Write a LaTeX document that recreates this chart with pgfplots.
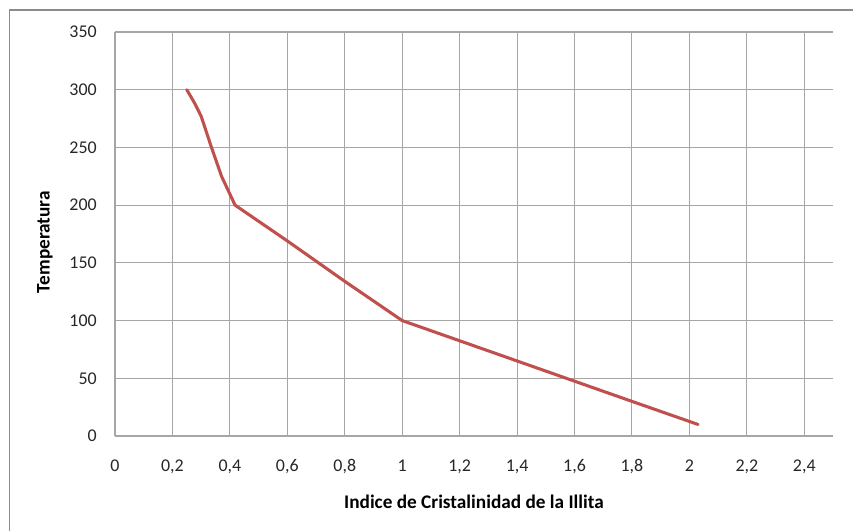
\documentclass[border=0pt]{standalone}
\usepackage{fontspec}
\setmainfont{Carlito}
\usepackage{pgfplots}
\pgfplotsset{compat=1.18}
\definecolor{serie}{HTML}{C0504D}
\definecolor{grille}{HTML}{A6A6A6}
\definecolor{cadre}{HTML}{8C8C8C}
\begin{document}
\begin{tikzpicture}
% page = 853x531 px, 1px = 0.75bp, origin at lower-left of plot area
\path[use as bounding box] (-86.25bp,-71.25bp) rectangle (553.5bp,327bp);
\draw[cadre, line width=1.1bp] (-79.1bp,-71.25bp) -- (-79.1bp,319.5bp) -- (553.5bp,319.5bp);
\begin{axis}[
  at={(0,0)}, anchor=south west,
  scale only axis,
  width=538.5bp, height=303bp,
  xmin=0, xmax=2.5,
  ymin=0, ymax=350,
  xtick={0,0.2,0.4,0.6,0.8,1,1.2,1.4,1.6,1.8,2,2.2,2.4},
  ytick={0,50,100,150,200,250,300,350},
  xticklabels={0,{0,2},{0,4},{0,6},{0,8},1,{1,2},{1,4},{1,6},{1,8},2,{2,2},{2,4}},
  grid=major,
  major grid style={grille, line width=0.8bp},
  axis line style={draw=none},
  tick style={draw=none},
  /pgf/number format/assume math mode=true,
  ticklabel style={font=\fontsize{13.5}{16}\selectfont, text=black!85},
  xticklabel style={anchor=base, inner sep=0pt, yshift=-26.25bp},
  yticklabel style={anchor=east, inner sep=0pt, xshift=-13.5bp},
  xlabel={Indice de Cristalinidad de la Illita},
  ylabel={Temperatura},
  label style={font=\bfseries\fontsize{14.5}{17}\selectfont},
  x label style={at={(axis description cs:0.5,0)}, anchor=center, yshift=-49.5bp},
  y label style={at={(axis description cs:-0.0975,0.48)}, anchor=center},
]
\addplot[serie, line width=2.3bp, line join=round, line cap=round, mark=none]
  coordinates {
    (0.25,300) (0.278,288) (0.30,277) (0.336,250) (0.371,225) (0.418,200)
    (0.60,169) (0.80,134) (1.00,100)
    (1.20,82.5) (1.40,65) (1.60,47.5) (1.80,30) (2.03,10)
  };
\end{axis}
\end{tikzpicture}
\end{document}
